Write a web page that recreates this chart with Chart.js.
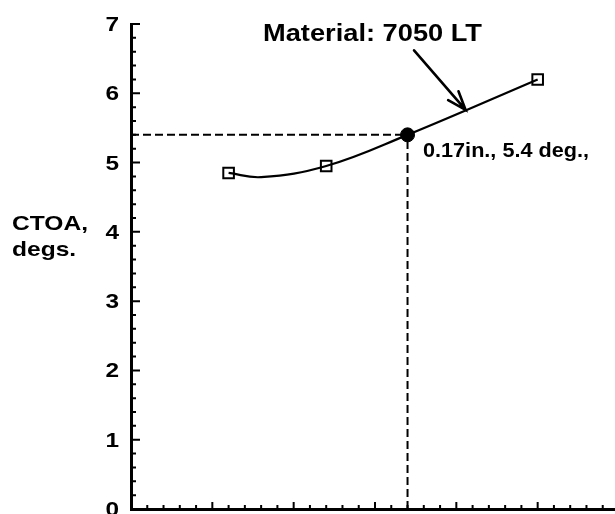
<!DOCTYPE html>
<html>
<head>
<meta charset="utf-8">
<style>
  html, body { margin: 0; padding: 0; overflow: hidden; background: #fff; width: 615px; height: 514px; }
  canvas { display: block; }
</style>
<script src="https://cdn.jsdelivr.net/npm/chart.js@4.4.1/dist/chart.umd.min.js"></script>
</head>
<body>
<canvas id="c" width="640" height="514"></canvas>
<script>
// Measured crack-extension points (in.) and CTOA (degs.)
const crackX = [0.06, 0.12, 0.25];
const ctoaY  = [4.85, 4.95, 6.2];

// Fitted curve through the measurements
const fitX = [0.06, 0.08, 0.12, 0.17, 0.25];
const fitY = [4.85, 4.79, 4.95, 5.4, 6.2];

// Marked value on the curve
const markX = 0.17;
const markY = 5.4;
const markLabel = '0.17in., 5.4 deg.,';

// Axis ticks
const yMajor = [0, 1, 2, 3, 4, 5, 6, 7];
const yLabels = ['0', '1', '2', '3', '4', '5', '6', '7'];
const xMajor = [0, 0.05, 0.10, 0.15, 0.20, 0.25, 0.30];

const titleText = 'Material: 7050 LT';
const yTitle = ['CTOA,', 'degs.'];

const FONT = '"Liberation Sans", Arial, Helvetica, sans-serif';

function stretchText(ctx, text, x, baseline, size, scaleX, align) {
  ctx.save();
  ctx.font = 'bold ' + size + 'px ' + FONT;
  ctx.fillStyle = '#000';
  ctx.textAlign = align || 'left';
  ctx.textBaseline = 'alphabetic';
  ctx.translate(x, baseline);
  ctx.scale(scaleX, 1);
  ctx.fillText(text, 0, 0);
  ctx.restore();
}

function fitScale(ctx, text, size, width) {
  ctx.font = 'bold ' + size + 'px ' + FONT;
  return width / ctx.measureText(text).width;
}

const decor = {
  id: 'decor',
  afterDraw(chart) {
    const ctx = chart.ctx;
    const xs = chart.scales.x, ys = chart.scales.y;
    const area = chart.chartArea;

    // inward tick marks
    ctx.save();
    ctx.strokeStyle = '#000';
    ctx.lineWidth = 2;
    ctx.beginPath();
    for (let i = 0; i < yMajor.length; i++) {
      const v = yMajor[i];
      const py = ys.getPixelForValue(v);
      ctx.moveTo(area.left, py); ctx.lineTo(area.left + 9, py);
      if (i < yMajor.length - 1) {
        for (let k = 1; k < 5; k++) {
          const pm = ys.getPixelForValue(v + k * 0.2);
          ctx.moveTo(area.left, pm); ctx.lineTo(area.left + 5, pm);
        }
      }
    }
    for (let i = 0; i < xMajor.length; i++) {
      const v = xMajor[i];
      const px = xs.getPixelForValue(v);
      ctx.moveTo(px, area.bottom); ctx.lineTo(px, area.bottom - 7);
      if (i < xMajor.length - 1) {
        for (let k = 1; k < 5; k++) {
          const pm = xs.getPixelForValue(v + k * 0.01);
          ctx.moveTo(pm, area.bottom); ctx.lineTo(pm, area.bottom - 4);
        }
      }
    }
    ctx.stroke();

    // arrow pointing at the curve
    const tailX = xs.getPixelForValue(0.174), tailY = ys.getPixelForValue(6.62);
    const tipX = xs.getPixelForValue(0.2057), tipY = ys.getPixelForValue(5.76);
    ctx.lineWidth = 2.6;
    ctx.lineCap = 'round';
    ctx.lineJoin = 'miter';
    ctx.beginPath();
    ctx.moveTo(tailX, tailY); ctx.lineTo(tipX, tipY);
    const back = Math.atan2(tailY - tipY, tailX - tipX);
    const wing = 20, spread = 20 * Math.PI / 180;
    ctx.moveTo(tipX + wing * Math.cos(back + spread), tipY + wing * Math.sin(back + spread));
    ctx.lineTo(tipX, tipY);
    ctx.lineTo(tipX + wing * Math.cos(back - spread), tipY + wing * Math.sin(back - spread));
    ctx.stroke();
    ctx.restore();

    // y tick labels
    for (let i = 0; i < yMajor.length; i++) {
      const py = ys.getPixelForValue(yMajor[i]);
      stretchText(ctx, yLabels[i], area.left - 12, py + 7, 20, 1.22, 'right');
    }

    // texts
    stretchText(ctx, titleText, 263, 41, 24, fitScale(ctx, titleText, 24, 219));
    stretchText(ctx, markLabel, 423, 157, 20, fitScale(ctx, markLabel, 20, 166));
    const s = fitScale(ctx, yTitle[0], 21, 76);
    stretchText(ctx, yTitle[0], 12, 230, 21, s);
    stretchText(ctx, yTitle[1], 12, 256, 21, s);
  }
};

const pts = (xa, ya) => xa.map((x, i) => ({ x: x, y: ya[i] }));

new Chart(document.getElementById('c'), {
  type: 'scatter',
  data: {
    datasets: [
      {
        data: [{ x: 0, y: markY }, { x: markX, y: markY }],
        showLine: true, borderColor: '#000', borderWidth: 2, borderDash: [8, 4],
        pointRadius: 0, fill: false
      },
      {
        data: [{ x: markX, y: 0 }, { x: markX, y: markY }],
        showLine: true, borderColor: '#000', borderWidth: 2, borderDash: [8, 4],
        pointRadius: 0, fill: false
      },
      {
        data: pts(fitX, fitY),
        showLine: true, borderColor: '#000', borderWidth: 2.2, tension: 0.4,
        pointRadius: 0, fill: false
      },
      {
        data: pts(crackX, ctoaY),
        showLine: false, pointStyle: 'rect', pointRadius: 7.5,
        pointBackgroundColor: '#fff', pointBorderColor: '#000', pointBorderWidth: 2
      },
      {
        data: [{ x: markX, y: markY }],
        showLine: false, pointStyle: 'circle', pointRadius: 7,
        pointBackgroundColor: '#000', pointBorderColor: '#000', pointBorderWidth: 1
      }
    ]
  },
  options: {
    responsive: false,
    animation: false,
    events: [],
    layout: { autoPadding: false, padding: { top: 24, right: 21, left: 0, bottom: 0 } },
    plugins: { legend: { display: false }, tooltip: { enabled: false }, title: { display: false } },
    scales: {
      x: {
        type: 'linear', min: 0, max: 0.30,
        ticks: { display: false },
        grid: { display: true, drawOnChartArea: false, drawTicks: false },
        border: { display: true, color: '#000', width: 3 },
        afterFit(scale) { scale.height = 5; scale.paddingLeft = 0; scale.paddingRight = 0; }
      },
      y: {
        type: 'linear', min: 0, max: 7,
        afterBuildTicks(scale) { scale.ticks = yMajor.map(v => ({ value: v })); },
        ticks: { display: false },
        grid: { display: true, drawOnChartArea: false, drawTicks: false },
        border: { display: true, color: '#000', width: 3 },
        afterFit(scale) { scale.width = 131; scale.paddingTop = 0; scale.paddingBottom = 0; }
      }
    }
  },
  plugins: [decor]
});
</script>
</body>
</html>
